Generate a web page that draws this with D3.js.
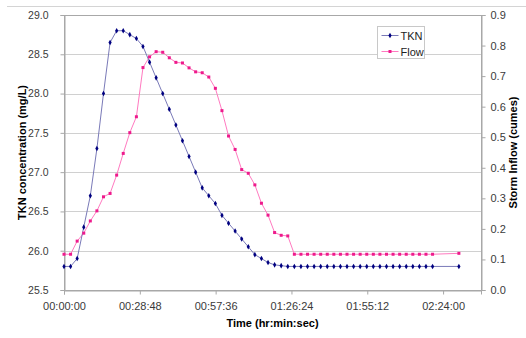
<!DOCTYPE html>
<html><head><meta charset="utf-8">
<script src="https://cdn.jsdelivr.net/npm/d3@7"></script>
<style>body{margin:0;background:#fff}svg{display:block}text{font-family:Arial,"Liberation Sans",sans-serif}</style>
</head><body><div id="chart"></div>
<script>
// Time in minutes since start
const timeMinutes = [0,2.5,5,7.5,10,12.5,15,17.5,20,22.5,25,27.5,30,32.5,35,37.5,40,42.5,45,47.5,50,52.5,55,57.5,60,62.5,65,67.5,70,72.5,75,77.5,80,82.5,85,87.5,90,92.5,95,97.5,100,102.5,105,107.5,110,112.5,115,117.5,120,122.5,125,127.5,130,132.5,135,137.5,140,150];
const tkn = [25.80,25.80,25.90,26.30,26.70,27.30,28.00,28.65,28.80,28.80,28.75,28.70,28.60,28.40,28.20,28.00,27.80,27.60,27.40,27.20,27.00,26.80,26.70,26.60,26.45,26.35,26.25,26.15,26.05,25.95,25.90,25.85,25.82,25.81,25.80,25.80,25.80,25.80,25.80,25.80,25.80,25.80,25.80,25.80,25.80,25.80,25.80,25.80,25.80,25.80,25.80,25.80,25.80,25.80,25.80,25.80,25.80,25.80];
const flow = [0.117,0.117,0.160,0.186,0.226,0.259,0.305,0.316,0.376,0.447,0.515,0.567,0.728,0.763,0.780,0.778,0.760,0.745,0.743,0.727,0.714,0.711,0.697,0.660,0.587,0.504,0.460,0.394,0.382,0.344,0.284,0.245,0.188,0.179,0.177,0.117,0.117,0.117,0.117,0.117,0.117,0.117,0.117,0.117,0.117,0.117,0.117,0.117,0.117,0.117,0.117,0.117,0.117,0.117,0.117,0.117,0.117,0.120];
const xTickMinutes = [0,28.8,57.6,86.4,115.2,144];
const xTickLabels = ["00:00:00","00:28:48","00:57:36","01:26:24","01:55:12","02:24:00"];
const leftTicks = [25.5,26.0,26.5,27.0,27.5,28.0,28.5,29.0];
const rightTicks = [0,0.1,0.2,0.3,0.4,0.5,0.6,0.7,0.8,0.9];
const seriesNames = ["TKN","Flow"];

const W=526,H=338;
const m={l:64,r:481,t:15,b:290};
const svg=d3.select("#chart").append("svg").attr("width",W).attr("height",H);

// outer frame line
svg.append("line").attr("x1",7).attr("x2",W).attr("y1",6.5).attr("y2",6.5).attr("stroke","#d4d4d4").attr("stroke-width",1);

const x=d3.scaleLinear().domain([0,158.4]).range([m.l,m.r]);
const yL=d3.scaleLinear().domain([25.5,29.0]).range([m.b,m.t]);
const yR=d3.scaleLinear().domain([0,0.9]).range([m.b,m.t]);

// gridlines
svg.append("g").selectAll("line").data(leftTicks.slice(1)).join("line")
  .attr("x1",m.l).attr("x2",m.r).attr("y1",d=>Math.round(yL(d))+0.5).attr("y2",d=>Math.round(yL(d))+0.5)
  .attr("stroke","#d0d0d0").attr("stroke-width",1);

// plot border
svg.append("rect").attr("x",m.l+0.5).attr("y",m.t+0.5).attr("width",m.r-m.l).attr("height",m.b-m.t)
  .attr("fill","none").attr("stroke","#a8a8a8").attr("stroke-width",1);

const tickColor="#a8a8a8", labColor="#3a3a3a";
const gL=svg.append("g").attr("transform",`translate(${m.l+0.5},0)`)
  .call(d3.axisLeft(yL).tickValues(leftTicks).tickFormat(d3.format(".1f")).tickSize(4).tickPadding(12));
const gR=svg.append("g").attr("transform",`translate(${m.r+0.5},0)`)
  .call(d3.axisRight(yR).tickValues(rightTicks).tickFormat(d3.format(".1f")).tickSize(4).tickPadding(5));
const gB=svg.append("g").attr("transform",`translate(0,${m.b+0.5})`)
  .call(d3.axisBottom(x).tickValues(xTickMinutes).tickFormat((d,i)=>xTickLabels[i]).tickSize(4).tickPadding(8));
[gL,gR,gB].forEach(g=>{
  g.select(".domain").attr("stroke",tickColor);
  g.selectAll(".tick line").attr("stroke",tickColor);
  g.selectAll(".tick text").attr("fill",labColor).style("font-size","11px").style("font-family","Arial, 'Liberation Sans', sans-serif");
});
gL.selectAll(".tick text").style("font-size","10.5px");

const tknColor="#000080", tknLine="#7a7ab8";
const flowColor="#ee1a8c", flowLine="#ff7ac0";
const tknData=timeMinutes.map((t,i)=>({t,v:tkn[i]}));
const flowData=timeMinutes.map((t,i)=>({t,v:flow[i]}));
svg.append("path").datum(flowData).attr("fill","none").attr("stroke",flowLine).attr("stroke-width",1)
  .attr("d",d3.line().x(d=>x(d.t)).y(d=>yR(d.v)));
svg.append("path").datum(tknData).attr("fill","none").attr("stroke",tknLine).attr("stroke-width",1)
  .attr("d",d3.line().x(d=>x(d.t)).y(d=>yL(d.v)));
svg.append("g").selectAll("rect").data(flowData).join("rect")
  .attr("x",d=>x(d.t)-1.5).attr("y",d=>yR(d.v)-1.5).attr("width",3).attr("height",3).attr("fill",flowColor);
const diamond=d3.symbol().type(d3.symbolDiamond).size(9);
svg.append("g").selectAll("path").data(tknData).join("path")
  .attr("transform",d=>`translate(${x(d.t)},${yL(d.v)})`).attr("d",diamond).attr("fill",tknColor);

// axis titles
svg.append("text").attr("transform",`translate(26,${(m.t+m.b)/2}) rotate(-90)`).attr("text-anchor","middle")
  .style("font-size","11px").style("font-weight","bold").text("TKN concentration (mg/L)");
svg.append("text").attr("transform",`translate(517,${(m.t+m.b)/2}) rotate(-90)`).attr("text-anchor","middle")
  .style("font-size","11px").style("font-weight","bold").text("Storm Inflow (cumes)");
svg.append("text").attr("x",(m.l+m.r)/2).attr("y",327).attr("text-anchor","middle")
  .style("font-size","11px").style("font-weight","bold").text("Time (hr:min:sec)");

// legend
const lg=svg.append("g").attr("transform","translate(377.5,26.5)");
lg.append("rect").attr("width",47).attr("height",32).attr("fill","#fff").attr("stroke","#c8c8c8");
const items=[{n:seriesNames[0],c:tknColor,l:tknLine,s:"d"},{n:seriesNames[1],c:flowColor,l:flowLine,s:"s"}];
items.forEach((it,i)=>{
  const yy=9+i*16;
  lg.append("line").attr("x1",4).attr("x2",21).attr("y1",yy).attr("y2",yy).attr("stroke",it.l);
  if(it.s==="d") lg.append("path").attr("transform",`translate(12.5,${yy})`).attr("d",diamond).attr("fill",it.c);
  else lg.append("rect").attr("x",11).attr("y",yy-1.5).attr("width",3).attr("height",3).attr("fill",it.c);
  lg.append("text").attr("x",23).attr("y",yy+4).style("font-size","11px").attr("fill","#222").text(it.n);
});
</script></body></html>
